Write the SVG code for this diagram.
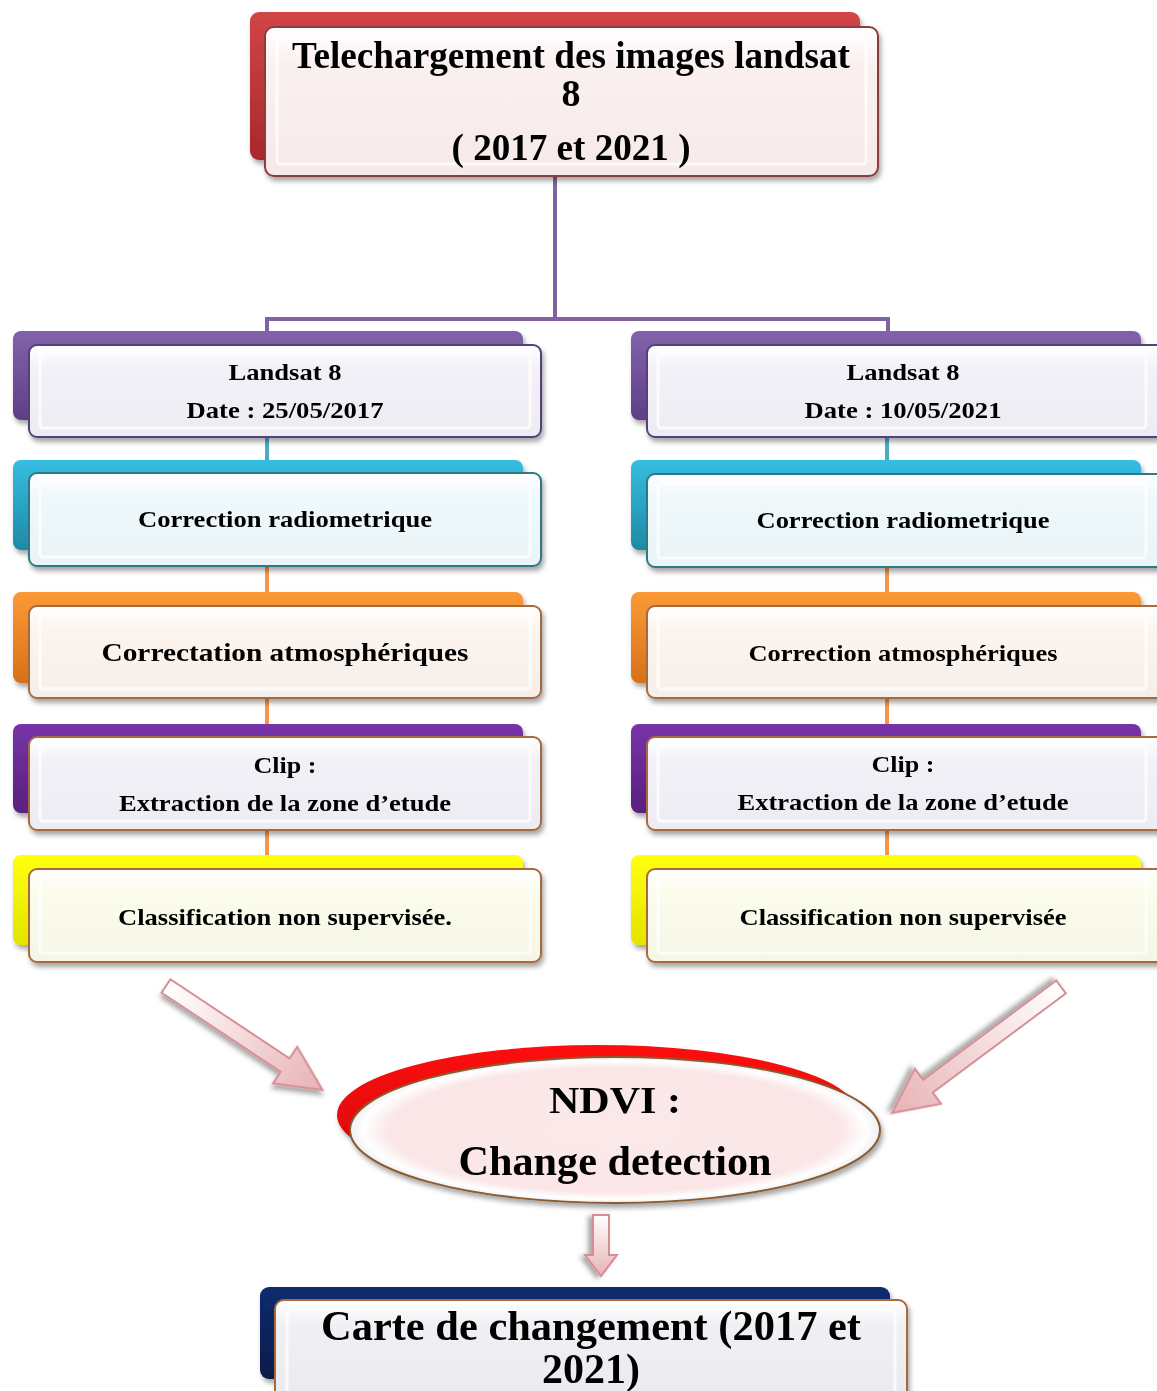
<svg xmlns="http://www.w3.org/2000/svg" width="1157" height="1391" viewBox="0 0 1157 1391">
<defs>
<style>
.t{font-family:"Liberation Serif","Times New Roman",serif;font-weight:bold;fill:#000;text-anchor:middle}
.s24{font-size:24px}
.s26{font-size:26px}
.s38{font-size:38px}
.s42{font-size:43px}
.bevel{fill:none;stroke:#ffffff;stroke-opacity:.75;stroke-width:3}
.bevel2{fill:none;stroke:#9a9a9a;stroke-opacity:.35;stroke-width:1}
.conn{fill:none;stroke-width:4}
.arrow{fill:url(#gArrow);stroke:#d58f94;stroke-width:2}
</style>
<filter id="sh" x="-10%" y="-20%" width="130%" height="150%">
<feDropShadow dx="2" dy="4" stdDeviation="2.5" flood-color="#000" flood-opacity=".35"/>
</filter>
<linearGradient id="gArrow" x1="0" y1="0" x2="1" y2="0">
<stop offset="0" stop-color="#ffffff"/>
<stop offset="1" stop-color="#e8b2b5"/>
</linearGradient>
<linearGradient id="fTop" x1="0" y1="0" x2="0" y2="1"><stop offset="0" stop-color="#ffffff"/><stop offset=".25" stop-color="#fbf0f0"/><stop offset="1" stop-color="#f6e9e9"/></linearGradient>
<linearGradient id="fPur" x1="0" y1="0" x2="0" y2="1"><stop offset="0" stop-color="#ffffff"/><stop offset=".25" stop-color="#f3f1f7"/><stop offset="1" stop-color="#eeecf3"/></linearGradient>
<linearGradient id="fTeal" x1="0" y1="0" x2="0" y2="1"><stop offset="0" stop-color="#ffffff"/><stop offset=".25" stop-color="#eff8fa"/><stop offset="1" stop-color="#eaf3f6"/></linearGradient>
<linearGradient id="fOr" x1="0" y1="0" x2="0" y2="1"><stop offset="0" stop-color="#ffffff"/><stop offset=".25" stop-color="#fcf5ef"/><stop offset="1" stop-color="#f6efe9"/></linearGradient>
<linearGradient id="fYel" x1="0" y1="0" x2="0" y2="1"><stop offset="0" stop-color="#ffffff"/><stop offset=".25" stop-color="#fcfcec"/><stop offset="1" stop-color="#f6f6e6"/></linearGradient>
<linearGradient id="fNav" x1="0" y1="0" x2="0" y2="1"><stop offset="0" stop-color="#ffffff"/><stop offset=".25" stop-color="#f0f0f4"/><stop offset="1" stop-color="#eaeaef"/></linearGradient>
<linearGradient id="bRed" x1="0" y1="0" x2="0" y2="1"><stop offset="0" stop-color="#d24546"/><stop offset="1" stop-color="#a8282b"/></linearGradient>
<linearGradient id="bPur1" x1="0" y1="0" x2="0" y2="1"><stop offset="0" stop-color="#8262ab"/><stop offset="1" stop-color="#5d3f86"/></linearGradient>
<linearGradient id="bTeal" x1="0" y1="0" x2="0" y2="1"><stop offset="0" stop-color="#36bde0"/><stop offset="1" stop-color="#1e8aa6"/></linearGradient>
<linearGradient id="bOr" x1="0" y1="0" x2="0" y2="1"><stop offset="0" stop-color="#fb9a36"/><stop offset="1" stop-color="#d8701a"/></linearGradient>
<linearGradient id="bPur2" x1="0" y1="0" x2="0" y2="1"><stop offset="0" stop-color="#7733a8"/><stop offset="1" stop-color="#58207f"/></linearGradient>
<linearGradient id="bYel" x1="0" y1="0" x2="0" y2="1"><stop offset="0" stop-color="#ffff10"/><stop offset="1" stop-color="#e3e300"/></linearGradient>
<linearGradient id="bNav" x1="0" y1="0" x2="0" y2="1"><stop offset="0" stop-color="#0f2d6e"/><stop offset="1" stop-color="#061a4a"/></linearGradient>
<radialGradient id="gEll" cx=".5" cy=".5" r=".5"><stop offset="0" stop-color="#fbe9ea"/><stop offset=".85" stop-color="#fae6e7"/><stop offset=".95" stop-color="#ffffff"/><stop offset="1" stop-color="#f0eeee"/></radialGradient>
<linearGradient id="gRedE" x1="0" y1="0" x2="0" y2="1"><stop offset="0" stop-color="#ff1010"/><stop offset="1" stop-color="#cc0000"/></linearGradient>
</defs>

<g id="connectors">
<path class="conn" stroke="#8064a2" d="M555,176 V319 M267,319 H888 M267,317 V345 M888,317 V345"/>
<path class="conn" stroke="#4bacc6" d="M267,437 V473 M887,437 V473"/>
<path class="conn" stroke="#f79646" d="M267,566 V606 M267,698 V737 M267,830 V869 M887,566 V606 M887,698 V737 M887,830 V869"/>
<path class="arrow" filter="url(#sh)" transform="translate(166,986) rotate(33.6)" d="M0,-8 H143 V-22 L188,0 L143,22 V8 H0 Z"/>
<path class="arrow" filter="url(#sh)" transform="translate(1061,987) rotate(143.3)" d="M0,-8 H166 V-22 L211,0 L166,22 V8 H0 Z"/>
<path class="arrow" filter="url(#sh)" transform="translate(601,1215) rotate(90)" d="M0,-8 H40 V-16 L61,0 L40,16 V8 H0 Z"/>
</g>

<g id="n-top" filter="url(#sh)">
<rect x="250" y="12" width="610" height="148" rx="9" fill="url(#bRed)"/>
<rect x="265" y="27" width="613" height="149" rx="9" fill="url(#fTop)" stroke="#8b3d3d" stroke-width="2"/>
<rect x="277" y="37" width="589" height="127" rx="3" class="bevel"/>
<text class="t s38" x="571" y="68" textLength="558" lengthAdjust="spacingAndGlyphs">Telechargement des images landsat</text>
<text class="t s38" x="571" y="106">8</text>
<text class="t s38" x="571" y="160" textLength="239" lengthAdjust="spacingAndGlyphs">( 2017 et 2021 )</text>
</g>

<g id="n-l1" filter="url(#sh)">
<rect x="13" y="331" width="510" height="89" rx="8" fill="url(#bPur1)"/>
<rect x="29" y="345" width="512" height="92" rx="8" fill="url(#fPur)" stroke="#55407a" stroke-width="2"/>
<rect x="40" y="354" width="490" height="74" rx="3" class="bevel"/>
<text class="t s24" x="285" y="380" textLength="113" lengthAdjust="spacingAndGlyphs">Landsat 8</text>
<text class="t s24" x="285" y="418" textLength="197" lengthAdjust="spacingAndGlyphs">Date : 25/05/2017</text>
</g>
<g id="n-r1" filter="url(#sh)">
<rect x="631" y="331" width="510" height="89" rx="8" fill="url(#bPur1)"/>
<rect x="647" y="345" width="520" height="92" rx="8" fill="url(#fPur)" stroke="#55407a" stroke-width="2"/>
<rect x="658" y="354" width="488" height="74" rx="3" class="bevel"/>
<text class="t s24" x="903" y="380" textLength="113" lengthAdjust="spacingAndGlyphs">Landsat 8</text>
<text class="t s24" x="903" y="418" textLength="197" lengthAdjust="spacingAndGlyphs">Date : 10/05/2021</text>
</g>

<g id="n-l2" filter="url(#sh)">
<rect x="13" y="460" width="510" height="90" rx="8" fill="url(#bTeal)"/>
<rect x="29" y="473" width="512" height="93" rx="8" fill="url(#fTeal)" stroke="#2d7888" stroke-width="2"/>
<rect x="40" y="482" width="490" height="75" rx="3" class="bevel"/>
<text class="t s24" x="285" y="527" textLength="294" lengthAdjust="spacingAndGlyphs">Correction radiometrique</text>
</g>
<g id="n-r2" filter="url(#sh)">
<rect x="631" y="460" width="510" height="90" rx="8" fill="url(#bTeal)"/>
<rect x="647" y="474" width="520" height="93" rx="8" fill="url(#fTeal)" stroke="#2d7888" stroke-width="2"/>
<rect x="658" y="483" width="488" height="75" rx="3" class="bevel"/>
<text class="t s24" x="903" y="528" textLength="293" lengthAdjust="spacingAndGlyphs">Correction radiometrique</text>
</g>

<g id="n-l3" filter="url(#sh)">
<rect x="13" y="592" width="510" height="91" rx="8" fill="url(#bOr)"/>
<rect x="29" y="606" width="512" height="92" rx="8" fill="url(#fOr)" stroke="#a86a3c" stroke-width="2"/>
<rect x="40" y="615" width="490" height="74" rx="3" class="bevel"/>
<text class="t s26" x="285" y="661" textLength="367" lengthAdjust="spacingAndGlyphs">Correctation atmosphériques</text>
</g>
<g id="n-r3" filter="url(#sh)">
<rect x="631" y="592" width="510" height="91" rx="8" fill="url(#bOr)"/>
<rect x="647" y="606" width="520" height="92" rx="8" fill="url(#fOr)" stroke="#a86a3c" stroke-width="2"/>
<rect x="658" y="615" width="488" height="74" rx="3" class="bevel"/>
<text class="t s24" x="903" y="661" textLength="309" lengthAdjust="spacingAndGlyphs">Correction atmosphériques</text>
</g>

<g id="n-l4" filter="url(#sh)">
<rect x="13" y="724" width="510" height="89" rx="8" fill="url(#bPur2)"/>
<rect x="29" y="737" width="512" height="93" rx="8" fill="url(#fPur)" stroke="#a86a3c" stroke-width="2"/>
<rect x="40" y="746" width="490" height="75" rx="3" class="bevel"/>
<text class="t s24" x="285" y="773" textLength="63" lengthAdjust="spacingAndGlyphs">Clip :</text>
<text class="t s24" x="285" y="811" textLength="332" lengthAdjust="spacingAndGlyphs">Extraction de la zone d’etude</text>
</g>
<g id="n-r4" filter="url(#sh)">
<rect x="631" y="724" width="510" height="89" rx="8" fill="url(#bPur2)"/>
<rect x="647" y="737" width="520" height="93" rx="8" fill="url(#fPur)" stroke="#a86a3c" stroke-width="2"/>
<rect x="658" y="746" width="488" height="75" rx="3" class="bevel"/>
<text class="t s24" x="903" y="772" textLength="63" lengthAdjust="spacingAndGlyphs">Clip :</text>
<text class="t s24" x="903" y="810" textLength="331" lengthAdjust="spacingAndGlyphs">Extraction de la zone d’etude</text>
</g>

<g id="n-l5" filter="url(#sh)">
<rect x="13" y="855" width="510" height="90" rx="8" fill="url(#bYel)"/>
<rect x="29" y="869" width="512" height="93" rx="8" fill="url(#fYel)" stroke="#a86a3c" stroke-width="2"/>
<rect x="40" y="878" width="490" height="75" rx="3" class="bevel"/>
<text class="t s24" x="285" y="925" textLength="334" lengthAdjust="spacingAndGlyphs">Classification non supervisée.</text>
</g>
<g id="n-r5" filter="url(#sh)">
<rect x="631" y="855" width="510" height="90" rx="8" fill="url(#bYel)"/>
<rect x="647" y="869" width="520" height="93" rx="8" fill="url(#fYel)" stroke="#a86a3c" stroke-width="2"/>
<rect x="658" y="878" width="488" height="75" rx="3" class="bevel"/>
<text class="t s24" x="903" y="925" textLength="327" lengthAdjust="spacingAndGlyphs">Classification non supervisée</text>
</g>

<g id="n-ndvi" filter="url(#sh)">
<ellipse cx="598" cy="1115" rx="261" ry="70" fill="url(#gRedE)"/>
<ellipse cx="615" cy="1130" rx="265" ry="73" fill="url(#gEll)" stroke="#8a5a30" stroke-width="2"/>
<text class="t s38" x="615" y="1113" font-size="40" textLength="132" lengthAdjust="spacingAndGlyphs">NDVI :</text>
<text class="t s42" x="615" y="1175" textLength="313" lengthAdjust="spacingAndGlyphs">Change detection</text>
</g>

<g id="n-bottom" filter="url(#sh)">
<rect x="260" y="1287" width="630" height="92" rx="9" fill="url(#bNav)"/>
<rect x="275" y="1300" width="632" height="100" rx="9" fill="url(#fNav)" stroke="#a86a3c" stroke-width="2"/>
<rect x="287" y="1310" width="608" height="90" rx="3" class="bevel"/>
<text class="t s42" x="591" y="1340" textLength="540" lengthAdjust="spacingAndGlyphs">Carte de changement (2017 et</text>
<text class="t s42" x="591" y="1383" textLength="98" lengthAdjust="spacingAndGlyphs">2021)</text>
</g>
</svg>
